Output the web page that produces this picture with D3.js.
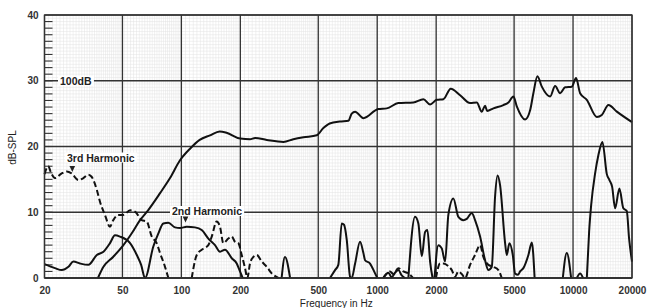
<!DOCTYPE html>
<html>
<head>
<meta charset="utf-8">
<script src="https://cdn.jsdelivr.net/npm/d3@7"></script>
<style>
  body { margin: 0; background: #fff; }
  svg text { font-family: "Liberation Sans", Arial, sans-serif; }
</style>
</head>
<body>
<div id="chart"></div>
<script>
// tick labels
const freqTicks = [20, 50, 100, 200, 500, 1000, 2000, 5000, 10000, 20000];
const dbTicks = [0, 10, 20, 30, 40];

// fundamental response, 100 dB reference
const respFreq = [37.5, 40, 44.8, 50, 55.8, 61.5, 67.6, 77.8, 87.5, 98.4, 111, 124, 140, 157, 170, 200, 224, 238, 273, 332, 373, 420, 491, 531, 572, 644, 712, 741, 771, 850, 1013, 1119, 1282, 1529, 1721, 1862, 2014, 2177, 2374, 2650, 2980, 3224, 3420, 3554, 3640, 3920, 4408, 4676, 4960, 5161, 5689, 6036, 6272, 6577, 6927, 7636, 8099, 8589, 9104, 9854, 10362, 10866, 11754, 13222, 14024, 15158, 16730, 20000];
const respDb = [0, 1.7, 3.2, 4.8, 6.8, 8.8, 10.3, 12.9, 15.2, 17.9, 19.7, 21, 21.7, 22.3, 22.1, 21.2, 21.1, 21.3, 21, 20.7, 21.1, 21.4, 21.7, 22.8, 23.5, 23.8, 23.9, 25, 25.3, 24.3, 25.7, 25.8, 26.6, 26.7, 27.2, 26.4, 27.1, 27.2, 28.8, 27.8, 26.6, 26.7, 25.3, 26.2, 25.4, 25.8, 26.3, 26.7, 27.6, 26.1, 24.1, 25.5, 28.1, 30.7, 29.1, 27.6, 29.2, 28.1, 29.0, 29.1, 30.4, 28.1, 27.1, 24.5, 24.8, 26.3, 25.3, 23.7];

// 2nd harmonic (solid), null = below 0 dB
const h2Freq = [20, 22.6, 24.5, 26.5, 28.1, 30.4, 33.5, 37, 40, 43.2, 45.8, 48.6, 54.7, 59.2, 62.3, 65.2,
  71.9, 76.3, 80.9, 85.8, 92.8, 98.5, 106.5, 117.4, 127, 137.3, 148.5, 157.5, 167, 180.8, 191.7, 198, 205.7, null,
  325, 338, 359, null,
  574, 609, 633, 659, 677, 699, 727, 741, 771, 817, 850, 867, 919, 975, 1002, null,
  1075, 1140, 1186, 1233, 1282, 1334, 1387, null,
  1442, 1560, 1622, 1689, 1756, 1804, 1862, 1917, null,
  1962, 2052, 2136, 2222, 2308, 2448, 2596, 2754, 2866, 3040, 3160, 3352, 3554, 3696, 3846, 3998, 4118, 4241, 4498, 4588, 4730, 4924, 5058, 5240, 5366, 5576, 5916, 6158, 6364, null,
  8866, 9290, 9774, null,
  10452, 10866, 11254, null,
  11758, 12078, 12366, 12962, 13474, 14124, 14874, 15336, 15830, 16398, 17246, 18072, 18808, 19330, 20000];
const h2Db = [2.1, 1.5, 1.2, 1.7, 2.5, 2.2, 2.0, 3.5, 4.0, 5.3, 6.5, 6.3, 5.3, 3.5, 2.0, 0,
  4.8, 6.8, 8.3, 8.4, 7.7, 7.6, 7.8, 7.7, 7.3, 6.0, 5.0, 4.0, 4.3, 3.0, 2.2, 1.2, 0, null,
  0, 3.2, 0, null,
  0, 1.2, 2.0, 8.3, 8.1, 5.8, 0.2, 0, 2.2, 5.5, 3.8, 2.7, 2.2, 0.7, 0, null,
  0, 0.8, 0.1, 0.8, 1.2, 0.4, 0, null,
  0, 9.3, 8.3, 3.3, 7.0, 7.3, 2.5, 0, null,
  0, 5.0, 4.5, 2.5, 9.6, 12.1, 9.3, 8.8, 9.0, 9.9, 8.8, 6.3, 2.7, 1.2, 1.7, 12.4, 15.6, 14.1, 5.3, 3.5, 5.3, 3.5, 0.7, 0.5, 1.0, 1.5, 3.5, 5.4, 0, null,
  0, 3.8, 0, null,
  0, 0.7, 0, null,
  0, 7, 11, 15.9, 18.7, 20.7, 15.8, 14.9, 13.9, 10.6, 13.6, 10.6, 10.2, 6, 2.5];

// 3rd harmonic (dashed)
const h3Freq = [20, 20.9, 21.6, 22.6, 24.5, 26, 27.5, 29.8, 31.6, 33.5, 34.8, 37, 38.4, 40.7, 43.2, 44.9, 47.6, 50.5, 54.7, 58, 62.7, 66.5, 70.6, 74.8, 77.8, 82.5, 85.8, null,
  112.9, 119.8, 127, 137.3, 142.9, 151.5, 157.5, 163.8, 173.7, 180.8, 187.9, 195.4, 203.3, 211.4, 217.3, 224, 233, 242.6, 257.3, 272.9, 289.4, 312.8, null,
  1071, 1119, 1163, 1209, 1282, 1360, 1442, 1524, null,
  1995, 2094, 2177, 2325, 2404, 2497, 2596, 2702, 2810, 2980, 3160, 3352, 3484, 3696, 3920, 4157, 4325];
const h3Db = [15.8, 17.0, 16.0, 15.2, 15.9, 16.2, 15.9, 14.9, 15.2, 15.7, 15.4, 13.4, 11.6, 9.6, 7.8, 8.8, 9.6, 9.6, 10.3, 10.1, 8.8, 8.6, 6.3, 5.3, 3.8, 1.7, 0, null,
  0, 3.5, 4.3, 5.0, 6.3, 8.6, 7.8, 5.3, 6.0, 6.3, 5.5, 5.3, 3.5, 1.5, 0, 2.2, 3.2, 3.5, 2.5, 1.7, 0.7, 0, null,
  0, 0.7, 1.0, 0.6, 1.5, 1.0, 0.7, 0, null,
  0, 2.2, 2.2, 1.7, 1.2, 0.2, 1.0, 0.6, 0, 2.0, 3.5, 5.0, 3.2, 2.0, 1.7, 1.2, 0];

const margin = { top: 15, right: 23, bottom: 30, left: 44.5 };
const width = 655 - margin.left - margin.right;
const height = 308 - margin.top - margin.bottom;

const svg = d3.select("#chart")
  .append("svg")
    .attr("width", 655)
    .attr("height", 308)
  .append("g")
    .attr("transform", `translate(${margin.left},${margin.top})`);

const x = d3.scaleLog().domain([20, 20000]).range([0, width]);
const y = d3.scaleLinear().domain([0, 40]).range([height, 0]);

// graph paper fine grid
const fine = [];
[10, 100, 1000, 10000].forEach(dec => {
  for (let m = 1; m < 10; m += (m < 2 ? 0.05 : m < 5 ? 0.1 : 0.2)) {
    const f = +(dec * m).toFixed(3);
    if (f > 20 && f < 20000) fine.push(f);
  }
});
svg.append("g")
  .selectAll("line")
  .data(fine)
  .join("line")
    .attr("x1", d => x(d)).attr("x2", d => x(d))
    .attr("y1", 0).attr("y2", height)
    .attr("stroke", "#e2e2e2").attr("stroke-width", 0.5);
svg.append("g")
  .selectAll("line")
  .data(d3.range(0.5, 40, 0.5))
  .join("line")
    .attr("x1", 0).attr("x2", width)
    .attr("y1", d => y(d)).attr("y2", d => y(d))
    .attr("stroke", "#e2e2e2").attr("stroke-width", 0.5);

// major grid
svg.append("g")
  .selectAll("line")
  .data(freqTicks)
  .join("line")
    .attr("x1", d => x(d)).attr("x2", d => x(d))
    .attr("y1", 0).attr("y2", height)
    .attr("stroke", "#333").attr("stroke-width", 1.3);
svg.append("g")
  .selectAll("line")
  .data(dbTicks)
  .join("line")
    .attr("x1", 0).attr("x2", width)
    .attr("y1", d => y(d)).attr("y2", d => y(d))
    .attr("stroke", "#333")
    .attr("stroke-width", d => d === 0 ? 2.2 : 1.3);

// 1 dB minor ticks on the left edge
svg.append("g")
  .selectAll("line")
  .data(d3.range(1, 40))
  .join("line")
    .attr("x1", 0).attr("x2", 8)
    .attr("y1", d => y(d)).attr("y2", d => y(d))
    .attr("stroke", "#333").attr("stroke-width", 1.1);

// axes labels
const xAxis = svg.append("g")
  .attr("transform", `translate(0,${height})`)
  .call(d3.axisBottom(x).tickValues(freqTicks).tickFormat(d3.format("d")).tickSize(0).tickPadding(9));
xAxis.select(".domain").remove();
xAxis.selectAll("text").attr("font-size", 10).attr("font-weight", "bold").attr("fill", "#333");

const yAxis = svg.append("g")
  .call(d3.axisLeft(y).tickValues(dbTicks).tickSize(0).tickPadding(6));
yAxis.select(".domain").remove();
yAxis.selectAll("text").attr("font-size", 10).attr("font-weight", "bold").attr("fill", "#333");

svg.append("text")
  .attr("x", width / 2 - 2)
  .attr("y", height + 28.5)
  .attr("text-anchor", "middle")
  .attr("font-size", 10)
  .attr("fill", "#222")
  .text("Frequency in Hz");

svg.append("text")
  .attr("transform", "rotate(-90)")
  .attr("x", -(y(20) + 1))
  .attr("y", -29)
  .attr("text-anchor", "middle")
  .attr("font-size", 10)
  .attr("fill", "#222")
  .text("dB-SPL");

// curves
const toPoints = (fs, ds) => fs.map((f, i) => ({ f, db: ds[i] }));
const line = d3.line()
  .defined(d => d.db !== null)
  .x(d => x(d.f))
  .y(d => y(d.db))
  .curve(d3.curveMonotoneX);

svg.append("path")
  .datum(toPoints(respFreq, respDb))
  .attr("d", line)
  .attr("fill", "none").attr("stroke", "#111").attr("stroke-width", 2);
svg.append("path")
  .datum(toPoints(h2Freq, h2Db))
  .attr("d", line)
  .attr("fill", "none").attr("stroke", "#111").attr("stroke-width", 2);
svg.append("path")
  .datum(toPoints(h3Freq, h3Db))
  .attr("d", line)
  .attr("fill", "none").attr("stroke", "#111").attr("stroke-width", 2)
  .attr("stroke-dasharray", "6,3");

// plot border
svg.append("rect")
  .attr("width", width).attr("height", height)
  .attr("fill", "none").attr("stroke", "#333").attr("stroke-width", 1.3);

// curve labels
function label(txt, lx, ly, arrowX, arrowY) {
  const bg = svg.append("rect").attr("fill", "#fff");
  const t = svg.append("text")
    .attr("x", lx).attr("y", ly)
    .attr("font-size", 10.5).attr("font-weight", "bold").attr("fill", "#222")
    .attr("dominant-baseline", "central")
    .text(txt);
  const bb = t.node().getBBox();
  bg.attr("x", bb.x - 2).attr("y", bb.y + 1).attr("width", bb.width + 4).attr("height", bb.height - 2);
  if (arrowX !== undefined) {
    svg.append("path")
      .attr("d", `M${arrowX - 2.8},${arrowY - 6}L${arrowX + 2.8},${arrowY - 6}L${arrowX},${arrowY}Z`)
      .attr("fill", "#222");
  }
}
label("100dB", 15.5, y(30));
label("3rd Harmonic", 22.5, 142.5, 27.8, 157);
label("2nd Harmonic", 127.5, 196, 141, 207.5);
</script>
</body>
</html>
